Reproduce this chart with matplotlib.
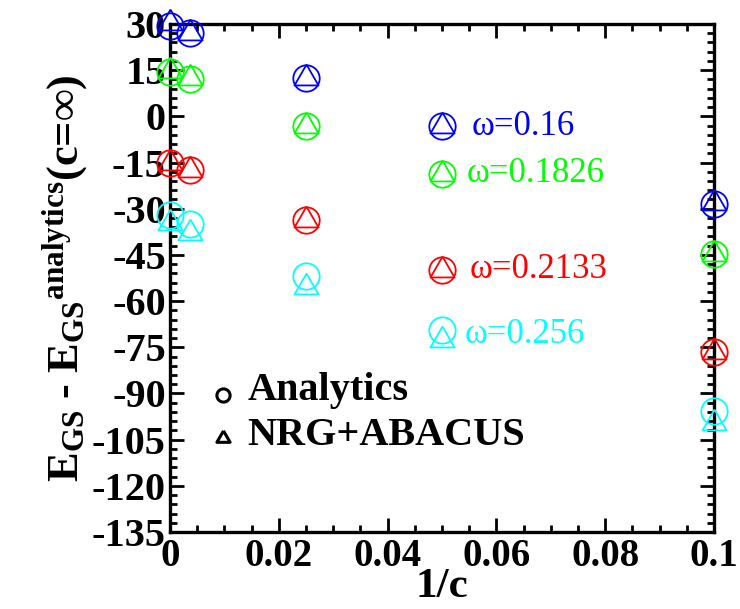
import numpy as np
import matplotlib
matplotlib.use('Agg')
import matplotlib.pyplot as plt
from matplotlib.ticker import MultipleLocator, FixedLocator, FixedFormatter

plt.rcParams['font.family'] = ['Liberation Serif', 'DejaVu Serif']
plt.rcParams['font.weight'] = 'bold'
plt.rcParams['axes.labelweight'] = 'bold'
plt.rcParams['mathtext.fontset'] = 'custom'
plt.rcParams['mathtext.rm'] = 'Liberation Serif:bold'
plt.rcParams['mathtext.bf'] = 'Liberation Serif:bold'
plt.rcParams['mathtext.it'] = 'Liberation Serif:bold:italic'
plt.rcParams['axes.unicode_minus'] = False

# ============================================================
# DATA
# ============================================================
inv_c = [0.0, 0.0036, 0.025, 0.1]
omegas = ['0.16', '0.1826', '0.2133', '0.256']

analytics_016 = [29.5, 27.0, 12.4, -28.4]
analytics_01826 = [14.5, 12.2, -3.0, -44.8]
analytics_02133 = [-15.1, -17.5, -33.8, -76.4]
analytics_0256 = [-32.0, -35.0, -51.8, -95.7]

nrg_016 = [30.3, 27.2, 12.4, -28.2]
nrg_01826 = [14.7, 12.4, -3.0, -44.8]
nrg_02133 = [-15.0, -17.4, -33.8, -76.4]
nrg_0256 = [-34.7, -38.0, -55.5, -99.7]

x_ticks = [0, 0.02, 0.04, 0.06, 0.08, 0.1]
x_ticklabels = ['0', '0.02', '0.04', '0.06', '0.08', '0.1']
y_ticks = [30, 15, 0, -15, -30, -45, -60, -75, -90, -105, -120, -135]

# ============================================================
# STYLE
# ============================================================
COLOURS = ['#0000ff', '#00ff00', '#ff0000', '#00ffff']
TRI = [(0, 1), (-0.866, -0.5), (0.866, -0.5), (0, 1)]   # equilateral, centred on circumcentre

# key positions (axes fraction) for the omega labels
KEY_X = 0.5
KEY_CIRC_Y = [0.799, 0.705, 0.516, 0.398]
KEY_TRI_Y = [0.799, 0.705, 0.516, 0.378]
KEY_TEXT_X = [0.555, 0.546, 0.550, 0.542]
KEY_TEXT_Y = [0.799, 0.705, 0.516, 0.388]

series = [
    (analytics_016, nrg_016),
    (analytics_01826, nrg_01826),
    (analytics_02133, nrg_02133),
    (analytics_0256, nrg_0256),
]

fig = plt.figure(figsize=(7.4, 6.09), dpi=100)
ax = fig.add_axes([0.2297, 0.1264, 0.7352, 0.8342])

for i, (ana, nrg) in enumerate(series):
    c = COLOURS[i]
    ax.plot(inv_c, ana, linestyle='none', marker='o', markersize=19,
            markerfacecolor='none', markeredgecolor=c, markeredgewidth=1.3,
            clip_on=False, zorder=3)
    ax.plot(inv_c, nrg, linestyle='none', marker=TRI, markersize=20,
            markerfacecolor='none', markeredgecolor=c, markeredgewidth=1.3,
            clip_on=False, zorder=3)
    # colour key
    ax.plot([KEY_X], [KEY_CIRC_Y[i]], transform=ax.transAxes, marker='o',
            markersize=19, markerfacecolor='none', markeredgecolor=c,
            markeredgewidth=1.3, linestyle='none')
    ax.plot([KEY_X], [KEY_TRI_Y[i]], transform=ax.transAxes, marker=TRI,
            markersize=20, markerfacecolor='none', markeredgecolor=c,
            markeredgewidth=1.3, linestyle='none')
    ax.text(KEY_TEXT_X[i], KEY_TEXT_Y[i], 'ω=' + omegas[i], transform=ax.transAxes,
            color=c, fontsize=25, fontweight='normal', va='center', ha='left')

# symbol key (black)
ax.plot([0.097], [0.270], transform=ax.transAxes, marker='o', markersize=9.5,
        markerfacecolor='none', markeredgecolor='black', markeredgewidth=2.2,
        linestyle='none')
ax.plot([0.097], [0.185], transform=ax.transAxes, marker=TRI, markersize=11,
        markerfacecolor='none', markeredgecolor='black', markeredgewidth=2.2,
        linestyle='none')
ax.text(0.142, 0.278, 'Analytics', transform=ax.transAxes, fontsize=29,
        va='center', ha='left')
ax.text(0.142, 0.190, 'NRG+ABACUS', transform=ax.transAxes, fontsize=29,
        va='center', ha='left')

# axes
ax.set_xlim(0, 0.1)
ax.set_ylim(-135, 30)
ax.xaxis.set_major_locator(FixedLocator(x_ticks))
ax.xaxis.set_major_formatter(FixedFormatter(x_ticklabels))
ax.xaxis.set_minor_locator(MultipleLocator(0.005))
ax.yaxis.set_major_locator(FixedLocator(y_ticks))
ax.yaxis.set_minor_locator(MultipleLocator(3))
ax.tick_params(which='both', direction='in', top=True, right=True, width=2)
ax.tick_params(which='major', length=10, pad=4)
ax.tick_params(axis='x', which='major', labelsize=28)
ax.tick_params(axis='y', which='major', labelsize=29, pad=3)
ax.tick_params(which='minor', length=5)
for sp in ax.spines.values():
    sp.set_linewidth(2.4)

ax.set_xlabel('1/c', fontsize=31, fontweight='bold', labelpad=-5)
ax.set_ylabel('E$_{\\mathrm{GS}}$ - E$_{\\mathrm{GS}}{}^{\\mathrm{analytics}}$(c=∞)',
              fontsize=32, fontweight='bold', labelpad=1)

fig.savefig('out.png', dpi=100)
